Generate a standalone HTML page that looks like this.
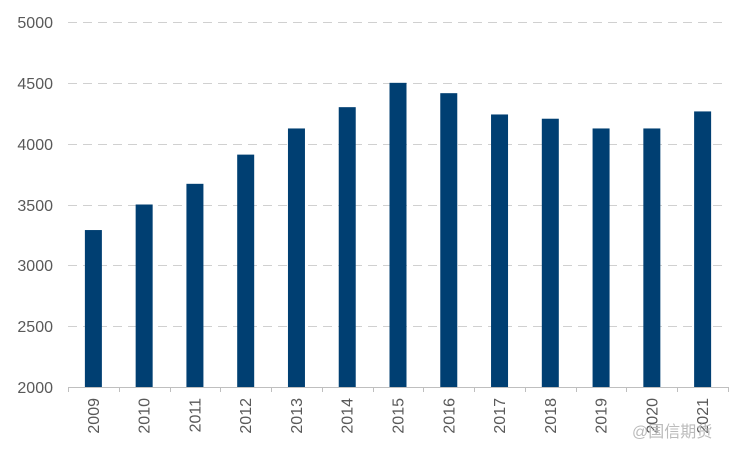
<!DOCTYPE html>
<html><head><meta charset="utf-8"><style>
body{margin:0;background:#fff}
svg text{font-family:"Liberation Sans","Noto Sans CJK SC",sans-serif;fill:#595959;font-size:16px}
</style></head><body>
<svg width="750" height="450" xmlns="http://www.w3.org/2000/svg">
<g stroke="#d0d0d0" stroke-width="1" stroke-dasharray="9,6">
<line x1="68" x2="728" y1="22.5" y2="22.5"/>
<line x1="68" x2="728" y1="83.5" y2="83.5"/>
<line x1="68" x2="728" y1="144.5" y2="144.5"/>
<line x1="68" x2="728" y1="205.5" y2="205.5"/>
<line x1="68" x2="728" y1="265.5" y2="265.5"/>
<line x1="68" x2="728" y1="326.5" y2="326.5"/>
</g>
<g text-anchor="end">
<text x="53" y="28">5000</text>
<text x="53" y="89">4500</text>
<text x="53" y="150">4000</text>
<text x="53" y="211">3500</text>
<text x="53" y="271">3000</text>
<text x="53" y="332">2500</text>
<text x="53" y="393">2000</text>
</g>
<g fill="#003f72" id="bars"></g>
<line x1="68" x2="728" y1="387.5" y2="387.5" stroke="#bfbfbf"/>
<g id="ticks" stroke="#bfbfbf"></g>
<g id="labels"></g>
<text x="632" y="437" style="fill:#bbb;font-size:16px">@国信期货</text>
</svg>
<script>
var v=[3290,3500,3670,3910,4125,4300,4500,4415,4240,4205,4125,4125,4265];
var ns="http://www.w3.org/2000/svg",b=document.getElementById('bars'),t=document.getElementById('ticks'),l=document.getElementById('labels');
var w=660/13;
for(var i=0;i<13;i++){var c=68+w*(i+0.5);var y=387-(v[i]-2000)*365/3000;
var r=document.createElementNS(ns,'rect');r.setAttribute('x',c-8.5);r.setAttribute('width',17);r.setAttribute('y',y);r.setAttribute('height',387-y);b.appendChild(r);
var tx=document.createElementNS(ns,'text');tx.setAttribute('transform','translate('+(c+5.5)+',398) rotate(-90)');tx.setAttribute('text-anchor','end');tx.textContent=2009+i;l.appendChild(tx);}
for(var i=0;i<=13;i++){var x=Math.round(68+w*i)+0.5;var ln=document.createElementNS(ns,'line');ln.setAttribute('x1',x);ln.setAttribute('x2',x);ln.setAttribute('y1',387);ln.setAttribute('y2',392);t.appendChild(ln);}
</script>
</body></html>
